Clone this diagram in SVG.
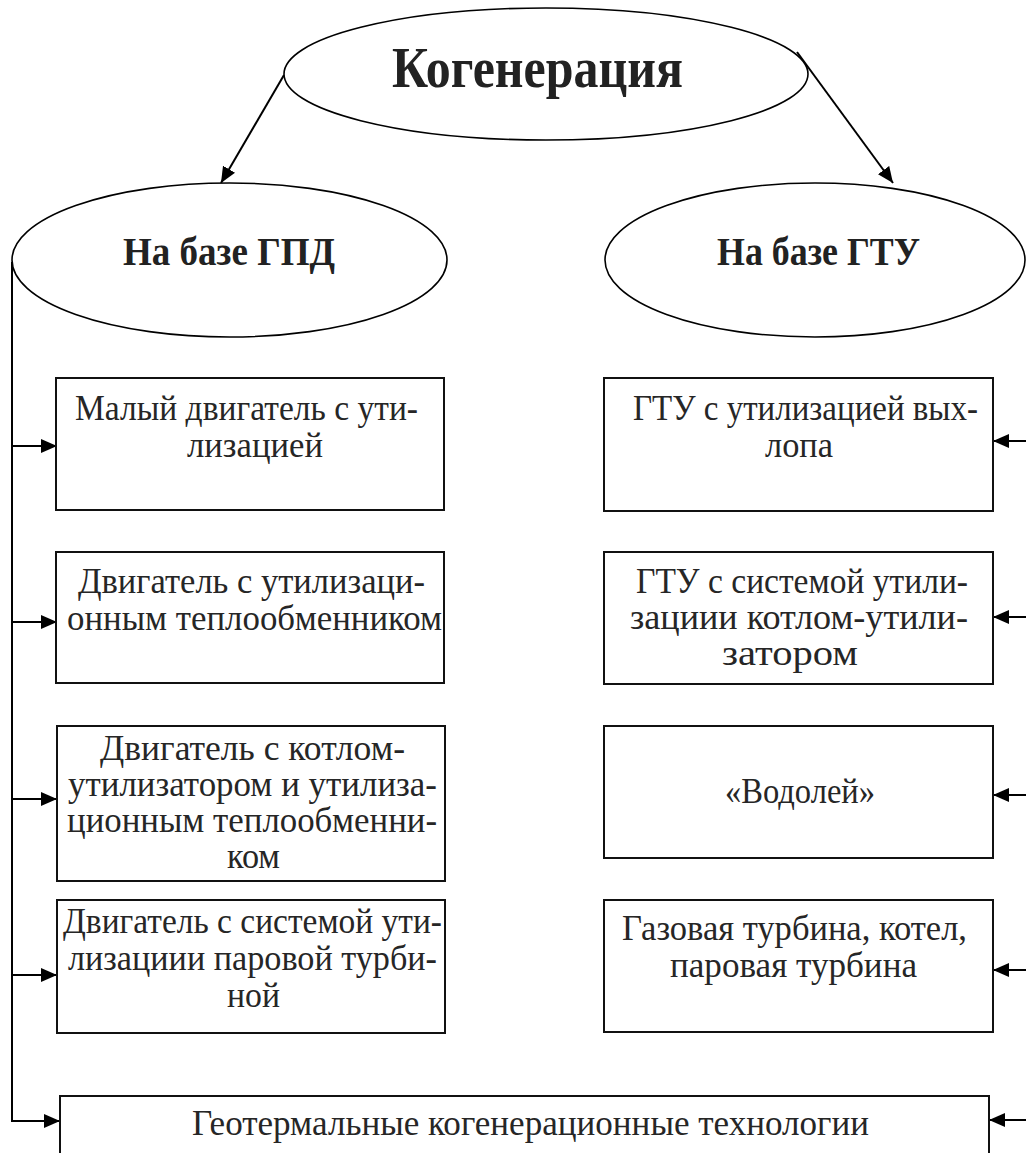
<svg xmlns="http://www.w3.org/2000/svg" width="1026" height="1153" viewBox="0 0 1026 1153">
<style>
.bg{fill:#fff}
.ell{fill:#fff;stroke:#000;stroke-width:1.6}
.box{fill:#fff;stroke:#111;stroke-width:2}
.con{fill:none;stroke:#000;stroke-width:2}
.h{font-family:"Liberation Serif","Times New Roman",serif;font-weight:bold;fill:#222}
.t{font-family:"Liberation Serif","Times New Roman",serif;font-size:35px;fill:#262626}
</style>
<defs>
<marker id="ah" viewBox="0 0 16 14" refX="16" refY="7" markerWidth="16" markerHeight="14" markerUnits="userSpaceOnUse" orient="auto">
<path d="M0,0 L16,7 L0,14 z" fill="#000"/>
</marker>
</defs>
<rect class="bg" x="0" y="0" width="1026" height="1153"/>

<g id="connectors">
<line class="con" x1="284" y1="75" x2="221" y2="183" marker-end="url(#ah)"/>
<line class="con" x1="797" y1="52" x2="893" y2="183" marker-end="url(#ah)"/>
<polyline class="con" points="12,262 12,1121 60,1121" marker-end="url(#ah)"/>
<line class="con" x1="12" y1="446" x2="57" y2="446" marker-end="url(#ah)"/>
<line class="con" x1="12" y1="622" x2="57" y2="622" marker-end="url(#ah)"/>
<line class="con" x1="12" y1="799" x2="57" y2="799" marker-end="url(#ah)"/>
<line class="con" x1="12" y1="975" x2="57" y2="975" marker-end="url(#ah)"/>
<line class="con" x1="1030" y1="441" x2="993" y2="441" marker-end="url(#ah)"/>
<line class="con" x1="1030" y1="617" x2="993" y2="617" marker-end="url(#ah)"/>
<line class="con" x1="1030" y1="795" x2="993" y2="795" marker-end="url(#ah)"/>
<line class="con" x1="1030" y1="970" x2="993" y2="970" marker-end="url(#ah)"/>
<line class="con" x1="1030" y1="1120" x2="989" y2="1120" marker-end="url(#ah)"/>
</g>

<g id="node-root">
<ellipse class="ell" cx="546" cy="74" rx="262" ry="66"/>
<text class="h" x="392" y="87" font-size="58" textLength="291" lengthAdjust="spacingAndGlyphs">Когенерация</text>
</g>

<g id="node-gpd">
<ellipse class="ell" cx="229.5" cy="260" rx="217.5" ry="77"/>
<text class="h" x="123" y="265" font-size="41" textLength="212" lengthAdjust="spacingAndGlyphs">На базе ГПД</text>
</g>

<g id="node-gtu">
<ellipse class="ell" cx="815" cy="260" rx="210" ry="77"/>
<text class="h" x="717" y="265" font-size="41" textLength="203" lengthAdjust="spacingAndGlyphs">На базе ГТУ</text>
</g>

<g id="node-l1">
<rect class="box" x="56" y="378" width="388" height="132"/>
<text class="t" x="75" y="420" textLength="343" lengthAdjust="spacingAndGlyphs">Малый двигатель с ути-</text>
<text class="t" x="187" y="457" textLength="136" lengthAdjust="spacingAndGlyphs">лизацией</text>
</g>

<g id="node-l2">
<rect class="box" x="56" y="552" width="388" height="131"/>
<text class="t" x="78" y="593" textLength="347" lengthAdjust="spacingAndGlyphs">Двигатель с утилизаци-</text>
<text class="t" x="67" y="630" textLength="375" lengthAdjust="spacingAndGlyphs">онным теплообменником</text>
</g>

<g id="node-l3">
<rect class="box" x="57" y="726" width="388" height="155"/>
<text class="t" x="100" y="760" textLength="305" lengthAdjust="spacingAndGlyphs">Двигатель с котлом-</text>
<text class="t" x="68" y="796" textLength="369" lengthAdjust="spacingAndGlyphs">утилизатором и утилиза-</text>
<text class="t" x="67" y="832" textLength="370" lengthAdjust="spacingAndGlyphs">ционным теплообменни-</text>
<text class="t" x="227" y="868" textLength="53" lengthAdjust="spacingAndGlyphs">ком</text>
</g>

<g id="node-l4">
<rect class="box" x="57" y="900" width="388" height="133"/>
<text class="t" x="63" y="933" textLength="379" lengthAdjust="spacingAndGlyphs">Двигатель с системой ути-</text>
<text class="t" x="68" y="970" textLength="369" lengthAdjust="spacingAndGlyphs">лизациии паровой турби-</text>
<text class="t" x="227" y="1007" textLength="53" lengthAdjust="spacingAndGlyphs">ной</text>
</g>

<g id="node-r1">
<rect class="box" x="604" y="378" width="389" height="133"/>
<text class="t" x="633" y="420" textLength="345" lengthAdjust="spacingAndGlyphs">ГТУ с утилизацией вых-</text>
<text class="t" x="765" y="457" textLength="68" lengthAdjust="spacingAndGlyphs">лопа</text>
</g>

<g id="node-r2">
<rect class="box" x="604" y="552" width="389" height="132"/>
<text class="t" x="636" y="593" textLength="332" lengthAdjust="spacingAndGlyphs">ГТУ с системой утили-</text>
<text class="t" x="630" y="629" textLength="338" lengthAdjust="spacingAndGlyphs">зациии котлом-утили-</text>
<text class="t" x="722" y="665" textLength="136" lengthAdjust="spacingAndGlyphs">затором</text>
</g>

<g id="node-r3">
<rect class="box" x="604" y="726" width="389" height="132"/>
<text class="t" x="725" y="803" textLength="150" lengthAdjust="spacingAndGlyphs">«Водолей»</text>
</g>

<g id="node-r4">
<rect class="box" x="604" y="900" width="389" height="132"/>
<text class="t" x="622" y="940" textLength="345" lengthAdjust="spacingAndGlyphs">Газовая турбина, котел,</text>
<text class="t" x="670" y="977" textLength="247" lengthAdjust="spacingAndGlyphs">паровая турбина</text>
</g>

<g id="node-geo">
<rect class="box" x="60" y="1096" width="929" height="80"/>
<text class="t" x="192" y="1135" textLength="677" lengthAdjust="spacingAndGlyphs">Геотермальные когенерационные технологии</text>
</g>
</svg>
